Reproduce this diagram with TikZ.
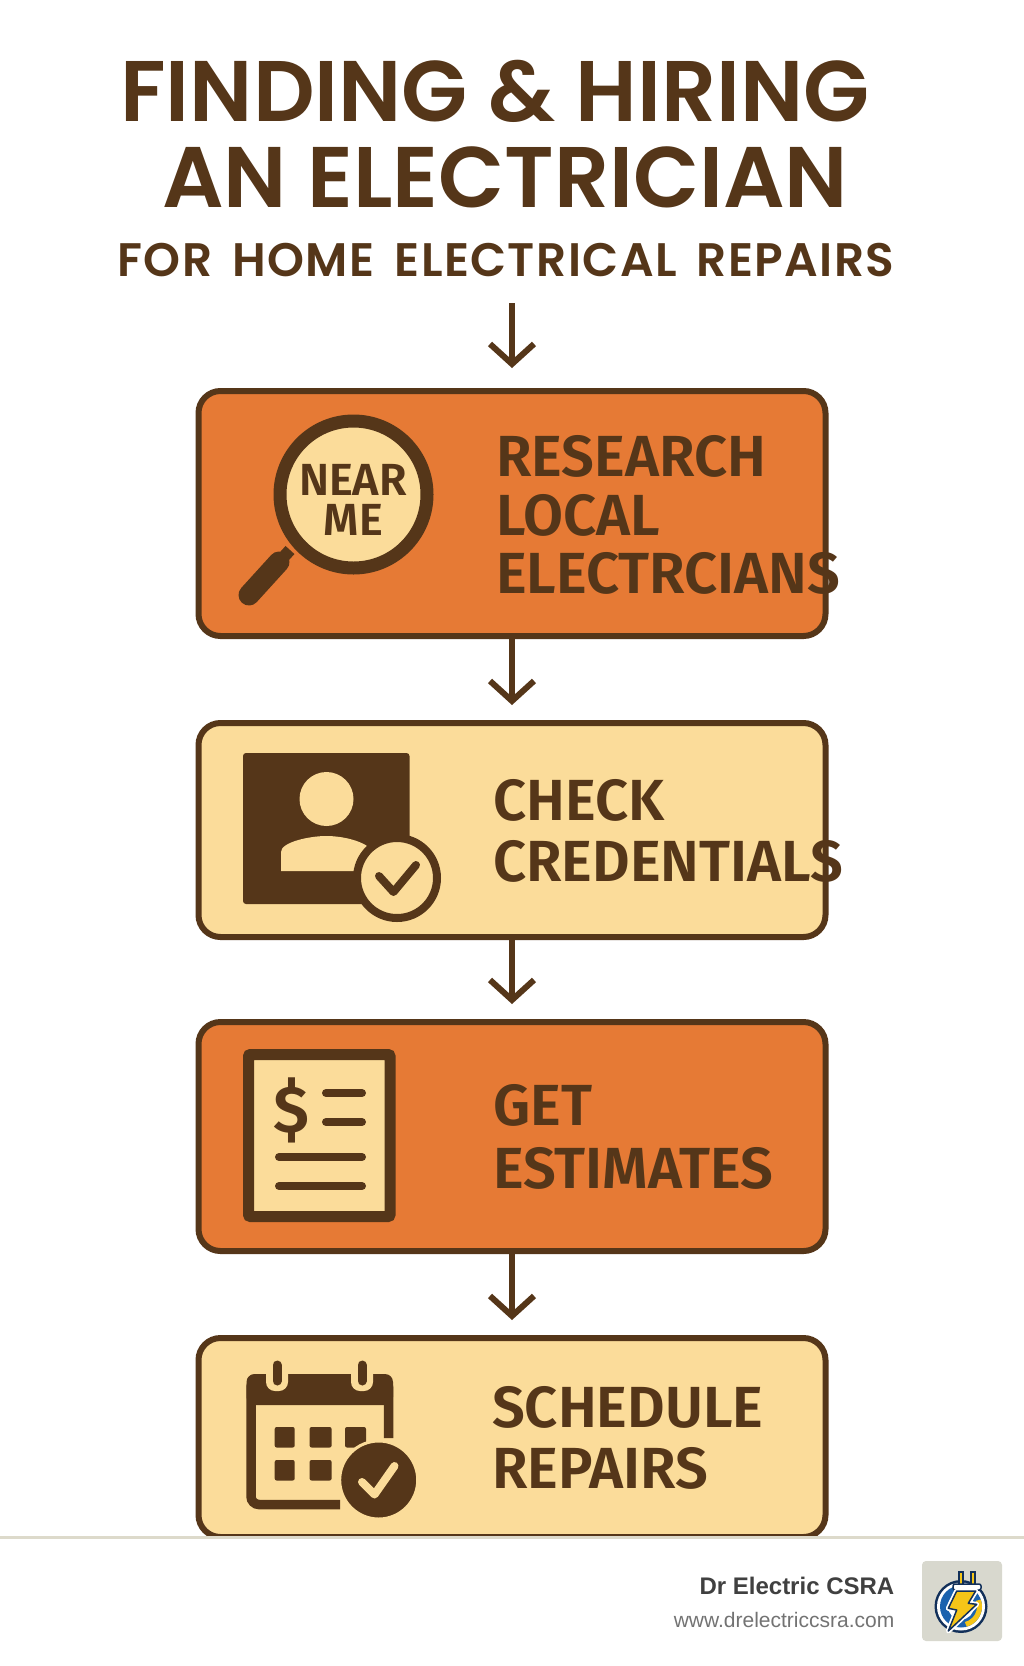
\documentclass[tikz,border=0pt]{standalone}
\usepackage{fontspec}
\usepackage{tikz}
\usetikzlibrary{arrows.meta}
\setmainfont{Fira Sans SemiBold}
\newfontfamily\headfont{Poppins SemiBold}
\newfontfamily\subfont[LetterSpace=3,WordSpace=1.6]{Poppins SemiBold}
\newfontfamily\footfont{Liberation Sans}
\definecolor{brownink}{HTML}{553619}
\definecolor{orangefill}{HTML}{E67A35}
\definecolor{creamfill}{HTML}{FBDC9A}
\definecolor{footrule}{HTML}{DDDACB}
\definecolor{logogrey}{HTML}{D8D8CE}
\definecolor{logonavy}{HTML}{12305A}
\definecolor{logoblue}{HTML}{1B62AE}
\definecolor{logoyellow}{HTML}{F5C518}
\tikzset{
  stepbox/.style={draw=brownink,line width=6pt,rounded corners=22pt,minimum width=627pt,inner sep=0pt},
  flowarrow/.style={draw=brownink,line width=5.5pt,-{Straight Barb[length=20pt,width=44pt,line width=6pt]}},
  headline/.style={text=brownink,inner sep=0pt,anchor=base},
  steptext/.style={text=brownink,inner sep=0pt,anchor=base west,font=\fontsize{58}{58}\selectfont},
  neartext/.style={text=brownink,inner sep=0pt,anchor=base,font=\fontsize{45}{45}\selectfont},
  iconline/.style={draw=brownink,line width=8pt,line cap=round},
  gridcell/.style={fill=brownink,rounded corners=2pt}
}
\begin{document}
\begin{tikzpicture}[x=1pt,y=-1pt]
  \useasboundingbox (0,0) rectangle (1024,1666);
  \fill[white] (0,0) rectangle (1024,1666);

  \node[headline,font=\headfont\fontsize{86}{86}\selectfont] (title1) at (495,121) {FINDING \& HIRING};
  \node[headline,font=\headfont\fontsize{86}{86}\selectfont] (title2) at (505,207) {AN ELECTRICIAN};
  \node[headline,font=\subfont\fontsize{47}{47}\selectfont] (title3) at (506,276) {FOR HOME ELECTRICAL REPAIRS};

  \node[stepbox,fill=orangefill,minimum height=245pt] (research) at (512,513.5) {};
  \node[stepbox,fill=creamfill,minimum height=214pt] (credentials) at (512,830) {};
  \node[stepbox,fill=orangefill,minimum height=229pt] (estimates) at (512,1136.5) {};
  \node[stepbox,fill=creamfill,minimum height=199pt] (repairs) at (512,1437.5) {};

  \coordinate (start) at (512,303);
  \draw[flowarrow,shorten >=20pt] (start) -- (research);
  \draw[flowarrow,shorten >=15pt] (research) -- (credentials);
  \draw[flowarrow,shorten >=15pt] (credentials) -- (estimates);
  \draw[flowarrow,shorten >=15pt] (estimates) -- (repairs);

  \node[steptext] (research1) at (496,476) {RESEARCH};
  \node[steptext] (research2) at (496,535.5) {LOCAL};
  \node[steptext] (research3) at (496,593.5) {ELECTRCIANS};
  \node[steptext] (check1) at (493,820) {CHECK};
  \node[steptext] (check2) at (493,881) {CREDENTIALS};
  \node[steptext] (get1) at (493,1125.5) {GET};
  \node[steptext] (get2) at (493,1188) {ESTIMATES};
  \node[steptext] (schedule1) at (492,1427.5) {SCHEDULE};
  \node[steptext] (schedule2) at (492,1488.5) {REPAIRS};

  \draw[brownink,line width=12pt] (290,550) -- (280,561);
  \draw[brownink,line width=21pt,line cap=round] (279,562) -- (249,595);
  \draw[brownink,fill=creamfill,line width=13pt] (353.5,494.5) circle (73.5);
  \node[neartext] (near) at (353,495) {NEAR};
  \node[neartext] (me) at (353.5,535.5) {ME};

  \fill[brownink,rounded corners=3pt] (243,753) rectangle (409.5,904);
  \fill[creamfill] (326.5,799) circle (27);
  \fill[creamfill] (281,871) -- (281,852) .. controls (281,842) and (310,836) .. (326,836)
    .. controls (345,836) and (365,842) .. (372,850) -- (372,871) -- cycle;
  \draw[brownink,fill=creamfill,line width=8pt] (397,878) circle (40);
  \draw[brownink,line width=8pt,line cap=round,line join=round] (379,876) -- (393.5,892) -- (416,865);

  \draw[brownink,fill=creamfill,line width=11pt,rounded corners=2pt] (248.5,1054.5) rectangle (390,1216.5);
  \node[text=brownink,inner sep=0pt,font=\fontsize{66}{66}\selectfont] (dollar) at (291.5,1110) {\$};
  \draw[iconline] (326,1093) -- (362,1093);
  \draw[iconline] (326,1122) -- (362,1122);
  \draw[iconline] (279,1157) -- (362,1157);
  \draw[iconline] (279,1186) -- (362,1186);

  \draw[brownink,line width=9.5pt,rounded corners=8pt] (340,1504.5) -- (251,1504.5) -- (251,1379) -- (388.5,1379) -- (388.5,1438);
  \fill[brownink,rounded corners=8pt] (246.5,1405) -- (246.5,1374) -- (393,1374) -- (393,1405) -- cycle;
  \foreach \ringx in {277,362} {
    \fill[creamfill,rounded corners=9pt] (\ringx-11,1358) rectangle (\ringx+11,1391);
    \draw[brownink,line width=9pt,line cap=round] (\ringx,1365) -- (\ringx,1381);
  }
  \foreach \cellx/\cellw in {274.7/20,309.6/22,345/21} {
    \fill[gridcell] (\cellx,1427) rectangle ++(\cellw,20.5);
  }
  \foreach \cellx/\cellw in {274.7/20,309.6/22} {
    \fill[gridcell] (\cellx,1460) rectangle ++(\cellw,20.5);
  }
  \draw[creamfill,fill=brownink,line width=3pt] (378.7,1480) circle (39);
  \draw[creamfill,line width=8pt,line cap=round,line join=round] (362,1482) -- (374.5,1494.5) -- (394.5,1466);

  \fill[white] (0,1538) rectangle (1024,1666);
  \draw[footrule,line width=3pt] (0,1537.5) -- (1024,1537.5);

  \node[text=black!75,inner sep=0pt,anchor=base east,font=\footfont\fontsize{24}{24}\selectfont\bfseries] (company) at (894.5,1594) {Dr Electric CSRA};
  \node[text=black!55,inner sep=0pt,anchor=base east,font=\footfont\fontsize{21}{21}\selectfont] (website) at (894.5,1627) {www.drelectriccsra.com};

  \fill[logogrey,rounded corners=4pt] (922,1561) rectangle (1002,1641);
  \fill[logonavy] (961,1606.5) circle (26.5);
  \fill[white] (961,1606.5) circle (24);
  \fill[logoblue] (961,1606.5) circle (21);
  \draw[logoyellow,line width=5pt] (961,1606.5) ++(75:18.5) arc[start angle=75,end angle=-20,radius=18.5];
  \fill[white] (961,1606.5) circle (13);
  \draw[logonavy,fill=logoyellow,line width=1.5pt] (959,1572) rectangle (963,1585);
  \draw[logonavy,fill=logoyellow,line width=1.5pt] (971,1572) rectangle (975,1585);
  \draw[logonavy,fill=white,line width=1.5pt,rounded corners=2pt] (953,1584) rectangle (981,1590);
  \draw[white,line width=5pt,line join=round] (956.7,1591) -- (975.7,1591) -- (968.3,1603.3) -- (976.7,1604.3) -- (948.3,1631) -- (956.7,1610) -- (948.3,1608.3) -- cycle;
  \draw[logonavy,fill=logoyellow,line width=1.5pt,line join=round] (956.7,1591) -- (975.7,1591) -- (968.3,1603.3) -- (976.7,1604.3) -- (948.3,1631) -- (956.7,1610) -- (948.3,1608.3) -- cycle;
\end{tikzpicture}
\end{document}
